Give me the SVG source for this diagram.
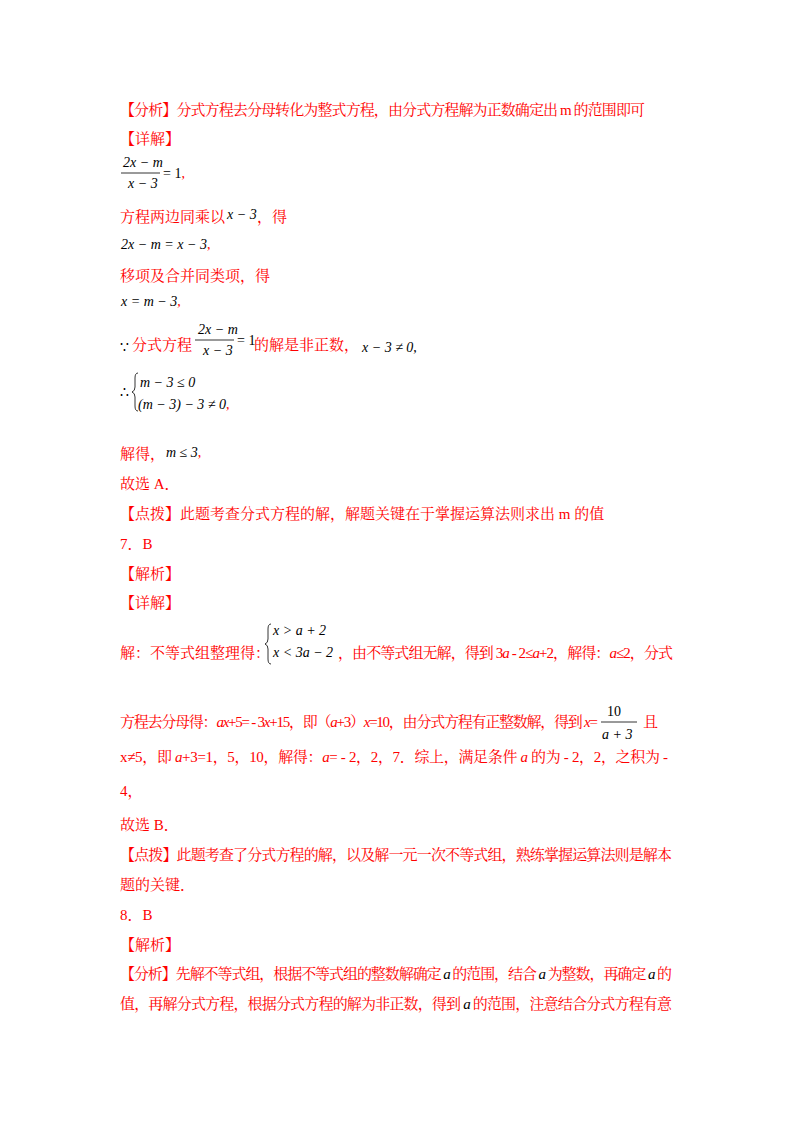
<svg xmlns="http://www.w3.org/2000/svg" width="800" height="1132" viewBox="0 0 800 1132">
<style>
text{font-family:"Liberation Serif","Noto Serif CJK SC","Noto Sans CJK SC",serif;font-size:15px}
.r{fill:#ff0000}
.k{fill:#000}
.m{font-family:"Liberation Serif",serif;font-style:italic;font-size:14px;fill:#000}
.n{font-family:"Liberation Serif",serif;font-size:14px;fill:#000}
.c{fill:#ff0000;font-style:normal}
line{stroke:#000;stroke-width:0.8}
path{fill:none;stroke:#000;stroke-width:0.8}
</style>
<rect width="800" height="1132" fill="#fff"/>
<g id="p1">
<text x="120" y="115" class="r" textLength="525">【分析】分式方程去分母转化为整式方程，由分式方程解为正数确定出 m 的范围即可</text>
<text x="120" y="144" class="r">【详解】</text>
<text x="123" y="167" class="m">2x − m</text>
<line x1="121" y1="173" x2="160" y2="173"/>
<text x="128" y="188" class="m">x − 3</text>
<text x="163" y="178" class="n">= 1<tspan class="c">,</tspan></text>
<text x="120" y="222" class="r">方程两边同乘以</text><text x="227" y="219" class="m">x − 3</text><text x="257" y="222" class="r">，得</text>
<text x="121" y="249" class="m">2x − m = x − 3<tspan class="c">,</tspan></text>
<text x="120" y="281" class="r">移项及合并同类项，得</text>
<text x="121" y="306" class="m">x = m − 3<tspan class="c">,</tspan></text>
<text x="120" y="352" class="n">∵</text>
<text x="132" y="350" class="r">分式方程</text>
<text x="198" y="334" class="m">2x − m</text>
<line x1="195" y1="340" x2="234" y2="340"/>
<text x="203" y="355" class="m">x − 3</text>
<text x="237" y="345" class="n">= 1</text>
<text x="254" y="350" class="r">的解是非正数，</text>
<text x="362" y="352" class="m">x − 3 ≠ 0<tspan class="n" font-style="normal">,</tspan></text>
<text x="120" y="397" class="n">∴</text>
<path d="M138 373 q-3 0 -3 5 v9 q0 4 -3 5 q3 1 3 5 v9 q0 5 3 5"/>
<text x="140" y="387" class="m">m − 3 ≤ 0</text>
<text x="138" y="409" class="m">(m − 3) − 3 ≠ 0<tspan class="c">,</tspan></text>
<text x="120" y="459" class="r">解得，</text><text x="166" y="457" class="m">m ≤ 3<tspan class="c">,</tspan></text>
<text x="120" y="489" class="r">故选 A．</text>
<text x="120" y="519" class="r">【点拨】此题考查分式方程的解，解题关键在于掌握运算法则求出 m 的值</text>
<text x="120" y="549" class="r">7．B</text>
<text x="120" y="579" class="r">【解析】</text>
<text x="120" y="608" class="r">【详解】</text>
</g>
<g id="p2">
<text x="120" y="658" class="r">解：不等式组整理得：</text>
<path d="M271 624 q-3 0 -3 5 v10 q0 4 -3 5 q3 1 3 5 v10 q0 5 3 5"/>
<text x="273" y="635" class="m">x &gt; a + 2</text>
<text x="273" y="657" class="m">x &lt; 3a − 2</text>
<text x="338" y="658" class="r" textLength="335">，由不等式组无解，得到 3<tspan font-style="italic">a</tspan> ‐ 2≤<tspan font-style="italic">a</tspan>+2，解得：<tspan font-style="italic">a</tspan>≤2，分式</text>
<text x="120" y="727" class="r" textLength="478">方程去分母得：<tspan font-style="italic">ax</tspan>+5= ‐ 3<tspan font-style="italic">x</tspan>+15，即（<tspan font-style="italic">a</tspan>+3）<tspan font-style="italic">x</tspan>=10，由分式方程有正整数解，得到 <tspan font-style="italic">x</tspan>=</text>
<text x="607" y="716" class="n">10</text>
<line x1="601" y1="722" x2="637" y2="722"/>
<text x="602" y="739" class="m">a + 3</text>
<text x="643" y="727" class="r">且</text>
<text x="120" y="762" class="r" textLength="548">x≠5，即 <tspan font-style="italic">a</tspan>+3=1，5，10，解得：<tspan font-style="italic">a</tspan>= ‐ 2，2，7．综上，满足条件 <tspan font-style="italic">a</tspan> 的为 ‐ 2，2，之积为 ‐</text>
<text x="120" y="796" class="r">4，</text>
<text x="120" y="830" class="r">故选 B．</text>
<text x="120" y="860" class="r" textLength="552">【点拨】此题考查了分式方程的解，以及解一元一次不等式组，熟练掌握运算法则是解本</text>
<text x="120" y="890" class="r">题的关键．</text>
<text x="120" y="920" class="r">8．B</text>
<text x="120" y="950" class="r">【解析】</text>
</g>
<g id="p3">
<text x="120" y="979" class="r" textLength="552">【分析】先解不等式组，根据不等式组的整数解确定<tspan class="k" font-style="italic"> a </tspan>的范围，结合<tspan class="k" font-style="italic"> a </tspan>为整数，再确定<tspan class="k" font-style="italic"> a </tspan>的</text>
<text x="120" y="1009" class="r" textLength="552">值，再解分式方程，根据分式方程的解为非正数，得到<tspan class="k" font-style="italic"> a </tspan>的范围，注意结合分式方程有意</text>
</g>
</svg>
